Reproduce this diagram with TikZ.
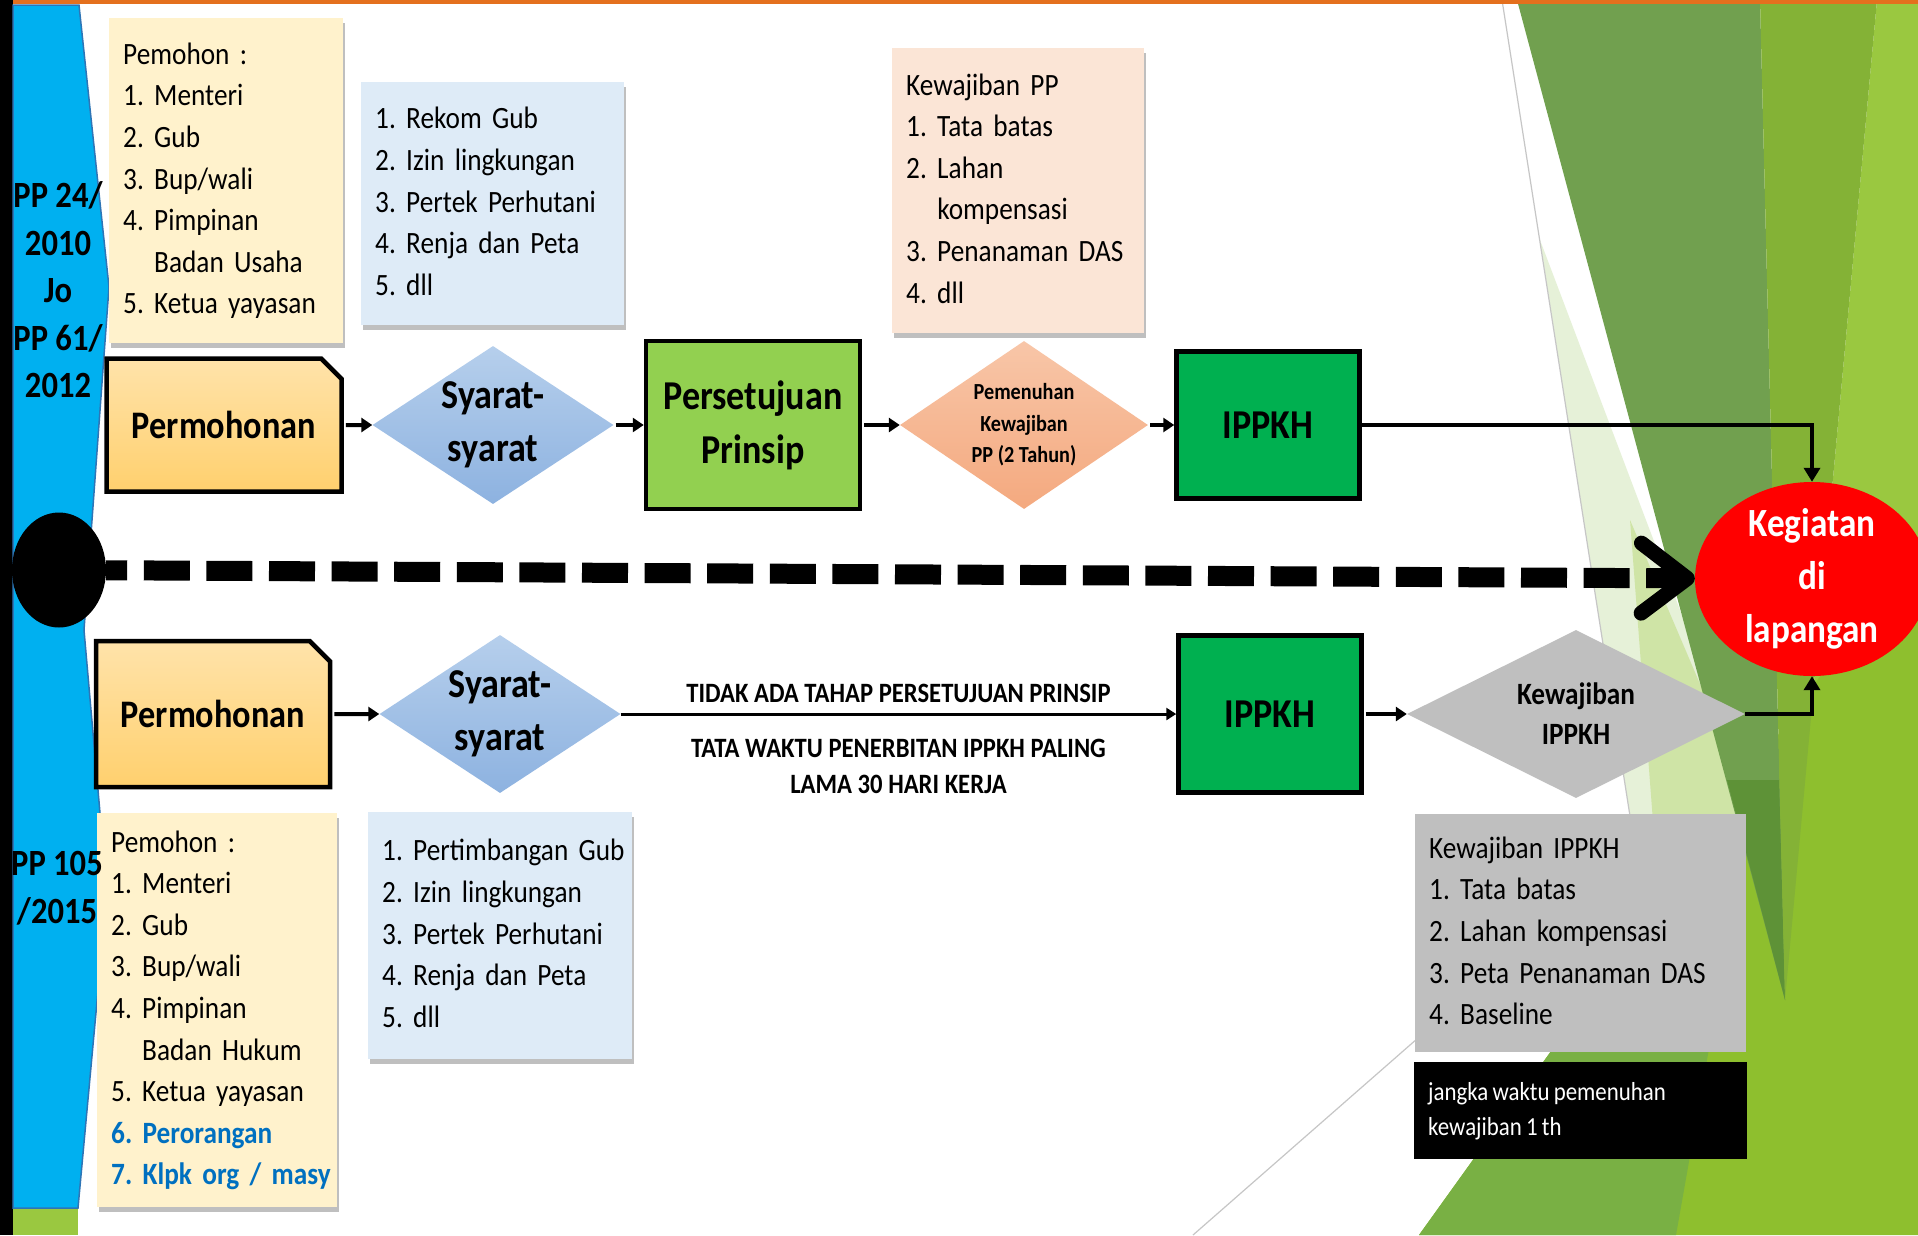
\documentclass[tikz,border=0pt]{standalone}
\usepackage{fontspec}
\setmainfont{Carlito}[FakeStretch=0.88]
\usepackage{tikz}
\usetikzlibrary{arrows.meta, calc, shapes.geometric, shapes.misc, shadows}
\frenchspacing

\definecolor{cream}{HTML}{FFF2CC}
\definecolor{paleblue}{HTML}{DEEBF7}
\definecolor{peach}{HTML}{FBE5D6}
\definecolor{lime}{HTML}{92D050}
\definecolor{ippkh}{HTML}{00B050}
\definecolor{greybox}{HTML}{BFBFBF}
\definecolor{bandblue}{HTML}{00B0F0}
\definecolor{bandedge}{HTML}{2E75B6}
\definecolor{topline}{HTML}{E4701E}
\definecolor{txtblue}{HTML}{0070C0}
\definecolor{permotop}{HTML}{FFE3AA}
\definecolor{permobot}{HTML}{FFD06E}
\definecolor{diatop}{HTML}{B6CFEC}
\definecolor{diabot}{HTML}{8DB2E0}
\definecolor{salmtop}{HTML}{F8C6A8}
\definecolor{salmbot}{HTML}{F4A97F}
\definecolor{olive}{HTML}{71A04F}
\definecolor{darkolive}{HTML}{5E9237}
\definecolor{medgreen}{HTML}{84B236}
\definecolor{lightgreen}{HTML}{9AC840}
\definecolor{brightgreen}{HTML}{8EBF2E}
\definecolor{midgreen}{HTML}{79B044}
\definecolor{palegreen}{HTML}{E6F1D8}
\definecolor{midpale}{HTML}{CFE4A6}

\newcommand{\lst}[1]{\begin{tabular}{@{}l@{}}#1\end{tabular}}
\newcommand{\tightsp}{\spaceskip=0.16em plus 0.05em\relax}

\tikzset{
  listbox/.style={rectangle, anchor=north west, inner xsep=14, inner ysep=0, align=left,
    font=\fontsize{31}{41.6}\selectfont},
  shadowed/.style={drop shadow={shadow xshift=2pt, shadow yshift=-5pt, opacity=0.25, fill=black}},
  flowbox/.style={rectangle, draw=black, line width=4.5, align=center,
    font=\bfseries\fontsize{41}{54}\selectfont},
  permo/.style={chamfered rectangle, chamfered rectangle corners=north east,
    chamfered rectangle xsep=20, draw=black, line width=4.5,
    top color=permotop, bottom color=permobot, font=\bfseries\fontsize{39}{48}\selectfont},
  syaratdia/.style={diamond, aspect=1.5, inner sep=-4, top color=diatop, bottom color=diabot,
    minimum width=241, minimum height=158, align=center, font=\bfseries\fontsize{41}{53}\selectfont},
  pemdia/.style={diamond, aspect=1.5, inner sep=0, top color=salmtop, bottom color=salmbot,
    minimum width=248, minimum height=168, align=center, font=\bfseries\fontsize{23}{31.5}\selectfont},
  kewdia/.style={diamond, aspect=2, inner sep=0, fill=greybox,
    minimum width=338, minimum height=168, align=center, font=\bfseries\fontsize{31}{40}\selectfont},
  kegiatan/.style={ellipse, fill=red, text=white, inner sep=-20, minimum width=234,
    minimum height=194, align=center, font=\bfseries\fontsize{40}{53}\selectfont},
  lawtxt/.style={inner sep=0, align=center, font=\bfseries\fontsize{37}{47.5}\selectfont},
  notetxt/.style={inner sep=0, align=center, font=\bfseries\fontsize{28}{36}\selectfont},
  conn/.style={line width=4, shorten <=2pt, -{Triangle[length=11pt,width=14pt]}},
  connthin/.style={line width=3, -{Triangle[length=10pt,width=12pt]}},
  connlong/.style={line width=4, -{Triangle[length=14pt,width=16pt]}},
  dashln/.style={line width=20, dash pattern=on 46pt off 16.6pt, dash phase=25pt,
    -{Straight Barb[length=46pt,width=70pt,line width=15pt,round]}},
  facetline/.style={gray!45, line width=1.2}
}

\begin{document}
\begin{tikzpicture}[x=1pt, y=-1pt]
\useasboundingbox (0,0) rectangle (1918,1235);
\fill[white] (0,0) rectangle (1918,1235);

% background facets
\fill[lightgreen] (1877,0) -- (1918,0) -- (1918,1235) -- (1785,1000) -- cycle;
\fill[brightgreen] (1419,1235) -- (1918,1235) -- (1918,540) -- (1760,760) -- cycle;
\fill[midgreen] (1419,1235) -- (1676,1235) -- (1760,760) -- cycle;
\fill[palegreen] (1540,240) -- (1635,848) -- (1770,848) -- cycle;
\fill[midpale] (1630,520) -- (1655,848) -- (1770,848) -- cycle;
\fill[olive] (1517,0) -- (1760,0) -- (1785,1000) -- cycle;
\fill[darkolive] (1727,780) -- (1779,780) -- (1785,1000) -- cycle;
\fill[medgreen] (1760,0) -- (1877,0) -- (1785,1000) -- cycle;
\draw[facetline] (1502,0) -- (1635,848) -- (1193,1235);

% left band
\fill[black] (0,0) rectangle (13,1235);
\fill[topline] (13,0) rectangle (1918,4);
\filldraw[fill=bandblue, draw=bandedge, line width=1.5]
  (13,5) -- (79,5) -- (109,287) -- (84,630) -- (107,893) -- (78,1208) -- (13,1208) -- cycle;
\fill[lightgreen] (13,1209) rectangle (78,1235);
\node (dot) [ellipse, fill=black, minimum width=94, minimum height=115, inner sep=0] at (59,570) {};

% upper row
\node (pemohonA) [listbox, shadowed, fill=cream, minimum width=234, minimum height=325, text width=206]
  at (109,18) {\lst{Pemohon :\\ 1. Menteri\\ 2. Gub\\ 3. Bup/wali\\ 4. Pimpinan\\
  \phantom{4. }Badan Usaha\\ 5. Ketua yayasan}};
\node (syaratA) [listbox, shadowed, fill=paleblue, minimum width=263, minimum height=243, text width=235]
  at (361,82) {\lst{1. Rekom Gub\\ 2. Izin lingkungan\\ 3. Pertek Perhutani\\ 4. Renja dan Peta\\ 5. dll}};
\node (wajibA) [listbox, shadowed, fill=peach, minimum width=252, minimum height=285, text width=224]
  at (892,48) {\lst{Kewajiban PP\\ 1. Tata batas\\ 2. Lahan\\ \phantom{2. }kompensasi\\
  3. Penanaman DAS\\ 4. dll}};

\node (permoA) [permo, minimum width=235, minimum height=133] at (224,425) {Permohonan};
\node (synA) [syaratdia] at (493,425) {Syarat-\\syarat};
\node (setuju) [flowbox, fill=lime, minimum width=214, minimum height=168] at (753,425) {Persetujuan\\Prinsip};
\node (penuhi) [pemdia] at (1024,425) {Pemenuhan\\Kewajiban\\PP (2 Tahun)};
\node (ippkhA) [flowbox, fill=ippkh, minimum width=183, minimum height=147] at (1268,425) {IPPKH};
\node (keg) [kegiatan] at (1812,579) {Kegiatan\\di\\lapangan};

% lower row
\node (permoB) [permo, minimum width=234, minimum height=146] at (213,714) {Permohonan};
\node (synB) [syaratdia] at (500,714) {Syarat-\\syarat};
\node (ippkhB) [flowbox, fill=ippkh, minimum width=183, minimum height=157] at (1270,714) {IPPKH};
\node (wajibB) [kewdia] at (1576,714) {Kewajiban\\IPPKH};

\node (pemohonB) [listbox, shadowed, fill=cream, minimum width=240, minimum height=394, text width=212]
  at (97,813) {\lst{Pemohon :\\ 1. Menteri\\ 2. Gub\\ 3. Bup/wali\\ 4. Pimpinan\\
  \phantom{4. }Badan Hukum\\ 5. Ketua yayasan\\ {\bfseries\color{txtblue}6. Perorangan}\\
  {\bfseries\color{txtblue}7. Klpk org / masy}}};
\node (syaratB) [listbox, shadowed, fill=paleblue, minimum width=264, minimum height=247, text width=236]
  at (368,812) {\lst{1. Pertimbangan Gub\\ 2. Izin lingkungan\\ 3. Pertek Perhutani\\
  4. Renja dan Peta\\ 5. dll}};
\node (wajibList) [listbox, fill=greybox, minimum width=331, minimum height=238, text width=303]
  at (1415,814) {\lst{Kewajiban IPPKH\\ 1. Tata batas\\ 2. Lahan kompensasi\\
  3. Peta Penanaman DAS\\ 4. Baseline}};
\node (jangka) [listbox, fill=black, text=white, minimum width=333, minimum height=97, text width=305,
  font=\fontsize{26}{35}\selectfont] at (1414,1062)
  {\tightsp\lst{jangka waktu pemenuhan\\ kewajiban 1 th}};

% regulation labels on the band
\node (lawA) [lawtxt] at (58,290) {PP 24/\\2010\\Jo\\PP 61/\\2012};
\node (lawB) [lawtxt] at (57,888) {PP 105\\/2015};

% connectors
\draw[conn] (permoA) -- (synA);
\draw[conn] (synA) -- (setuju);
\draw[conn] (setuju) -- (penuhi);
\draw[conn] (penuhi) -- (ippkhA);
\draw[connlong] (ippkhA) -| (keg);
\draw[dashln] (dot) -- (keg);
\draw[conn] (permoB) -- (synB);
\draw[connthin] (synB) -- node[notetxt, above=10pt] {TIDAK ADA TAHAP PERSETUJUAN PRINSIP}
  node[notetxt, below=24pt] {TATA WAKTU PENERBITAN IPPKH PALING\\LAMA 30 HARI KERJA} (ippkhB);
\draw[conn] (ippkhB) -- (wajibB);
\draw[connlong] (wajibB) -| (keg);
\end{tikzpicture}
\end{document}
